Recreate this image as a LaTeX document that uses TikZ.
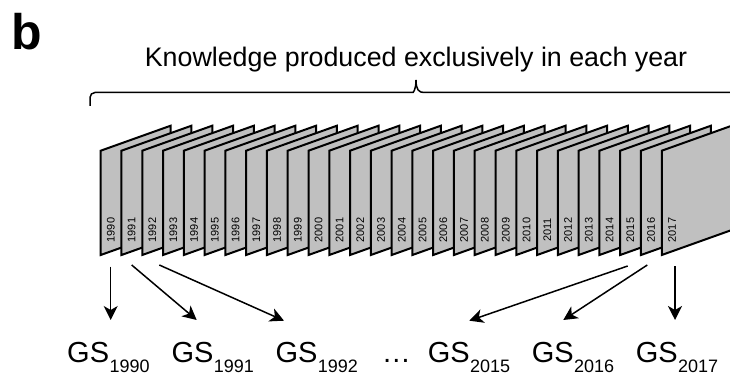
\documentclass[tikz,border=0pt]{standalone}
\usepackage{fontspec}
\setmainfont{Liberation Sans}
\usetikzlibrary{arrows.meta}
\definecolor{panelgray}{RGB}{192,192,192}
\newcommand\gslab[1]{{\fontsize{29}{29}\selectfont GS}\kern0.5pt\raisebox{-10pt}{\fontsize{18}{18}\selectfont #1}}
\begin{document}
\begin{tikzpicture}[x=1pt,y=-1pt,
  panel/.style={draw=black, fill=panelgray, line width=2pt, line join=miter},
  yrlab/.style={rotate=90, inner sep=0pt, font=\fontsize{11}{11}\selectfont},
  gs/.style={anchor=base west, inner sep=0pt},
  conn/.style={line width=1.5pt, -{Stealth[length=14pt,width=14pt,inset=4pt]}},
  bracestyle/.style={line width=1.5pt}]
\useasboundingbox (0,0) rectangle (730,379);
\clip (0,0) rectangle (730,379);

\node[anchor=base west, inner sep=0pt, font=\fontsize{50}{50}\selectfont\bfseries] (lbl) at (11.5,50) {b};
\node[anchor=base, inner sep=0pt, font=\fontsize{26.8}{26.8}\selectfont] (title) at (416,66.7) {Knowledge produced exclusively in each year};

\draw[bracestyle] (90,106) [rounded corners=5pt] -- (90,92.5) -- (408,92.5) [sharp corners]
  .. controls (413,92.5) and (416,90) .. (416,80)
  .. controls (416,90) and (419,92.5) .. (424,92.5) -- (745,92.5);

\foreach \i in {0,...,27} {
  \pgfmathsetmacro\xl{100.7+20.78*\i}
  \pgfmathtruncatemacro\yr{1990+\i}
  \draw[panel] (\xl,150.7) -- (\xl+70,125.7) -- (\xl+70,230) -- (\xl,255) -- cycle;
  \node[yrlab] (y\yr) at (\xl+10.2,230) {\yr};
}

\node[gs] (gs1990) at (67,362) {\gslab{1990}};
\node[gs] (gs1991) at (171.3,362) {\gslab{1991}};
\node[gs] (gs1992) at (275.3,362) {\gslab{1992}};
\node[gs] (dots) at (381.7,362) {\fontsize{29}{29}\selectfont …};
\node[gs] (gs2015) at (427.6,362) {\gslab{2015}};
\node[gs] (gs2016) at (531.6,362) {\gslab{2016}};
\node[gs] (gs2017) at (635.6,362) {\gslab{2017}};

\coordinate (s1990) at (110.7,266.7); \coordinate (e1990) at (110.7,320);
\coordinate (s1991) at (131.7,265);   \coordinate (e1991) at (196.7,320);
\coordinate (s1992) at (159.3,265);   \coordinate (e1992) at (284,320.7);
\coordinate (s2015) at (627.7,266);   \coordinate (e2015) at (469.3,320.7);
\coordinate (s2016) at (647.3,265);   \coordinate (e2016) at (563.3,320);
\coordinate (s2017) at (675,266);     \coordinate (e2017) at (675,320);

\foreach \y in {1990,1991,1992,2015,2016,2017}
  \draw[conn] (s\y) -- (e\y);
\end{tikzpicture}
\end{document}
